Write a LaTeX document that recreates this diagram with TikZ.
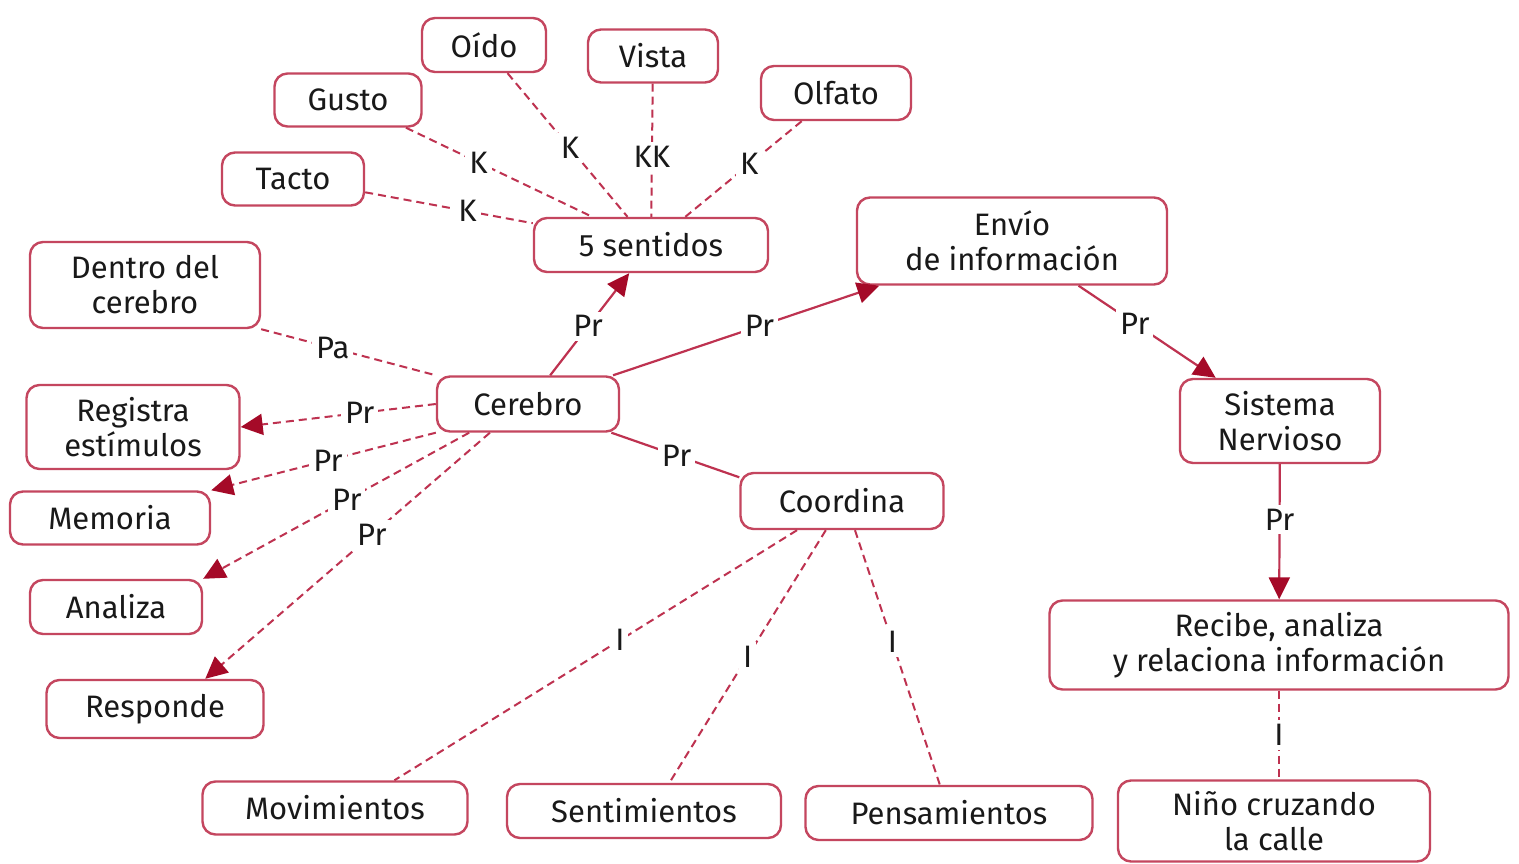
\documentclass[tikz,border=0pt]{standalone}
\usepackage{fontspec}
\setmainfont{Fira Sans}
\usetikzlibrary{arrows.meta}
\definecolor{boxred}{RGB}{196,70,95}
\definecolor{linered}{RGB}{190,50,80}
\definecolor{tipred}{RGB}{165,10,40}
\definecolor{ink}{RGB}{25,25,25}
\newcommand{\mapfont}{\fontsize{31}{35}\selectfont}

\begin{document}
\begin{tikzpicture}[x=1pt,y=-1pt,
    box/.style={draw=boxred,line width=2.4pt,rounded corners=13pt,fill=white,
      align=center,font=\mapfont,text=ink,inner sep=0pt},
    lbl/.style={fill=white,inner sep=4pt,font=\mapfont,text=ink},
    sline/.style={draw=linered,line width=2.2pt},
    dline/.style={draw=linered,line width=2pt,dash pattern=on 8pt off 5pt},
    tip/.style={-{Triangle[length=22pt,width=21pt,color=tipred]}}]
  \useasboundingbox[fill=white] (0,0) rectangle (1519,864);

  % sentidos
  \node[box,minimum width=124,minimum height=54] (oid) at (484,45) {Oído};
  \node[box,minimum width=130,minimum height=53] (vis) at (653,56) {Vista};
  \node[box,minimum width=147,minimum height=53] (gus) at (348,100) {Gusto};
  \node[box,minimum width=150,minimum height=54] (olf) at (836,93) {Olfato};
  \node[box,minimum width=142,minimum height=53] (tac) at (293,179) {Tacto};
  \node[box,minimum width=234,minimum height=54] (cin) at (651,245) {5 sentidos};

  % cerebro y lo que hace
  \node[box,minimum width=182,minimum height=55] (cer) at (528,404) {Cerebro};
  \node[box,minimum width=230,minimum height=86] (den) at (145,285) {Dentro del\\cerebro};
  \node[box,minimum width=213,minimum height=84] (reg) at (133,427) {Registra\\estímulos};
  \node[box,minimum width=200,minimum height=53] (mem) at (110,518) {Memoria};
  \node[box,minimum width=172,minimum height=54] (ana) at (116,607) {Analiza};
  \node[box,minimum width=217,minimum height=58] (res) at (155,709) {Responde};

  % coordina
  \node[box,minimum width=203,minimum height=56] (coo) at (842,501) {Coordina};
  \node[box,minimum width=265,minimum height=53] (mov) at (335,808) {Movimientos};
  \node[box,minimum width=274,minimum height=54] (sen) at (644,811) {Sentimientos};
  \node[box,minimum width=287,minimum height=54] (pen) at (949,813) {Pensamientos};

  % rama derecha
  \node[box,minimum width=310,minimum height=87] (env) at (1012,241) {Envío\\de información};
  \node[box,minimum width=200,minimum height=84] (sis) at (1280,421) {Sistema\\Nervioso};
  \node[box,minimum width=459,minimum height=89] (rec) at (1279,645) {Recibe, analiza\\y relaciona información};
  \node[box,minimum width=312,minimum height=81] (nin) at (1274,821) {Niño cruzando\\la calle};

  % K
  \draw[dline] (gus) -- node[lbl,pos=0.39] {K} (cin);
  \draw[dline] (oid) -- node[lbl,pos=0.52] {K} (cin);
  \draw[dline] (vis) -- node[lbl,pos=0.55] {KK} (cin);
  \draw[dline] (olf) -- node[lbl,pos=0.45] {K} (cin);
  \draw[dline] (tac) -- node[lbl,pos=0.61] {K} (cin);

  % Pr, solid
  \draw[sline,tip] (cer) -- node[lbl,pos=0.48] {Pr} (cin);
  \draw[sline,tip] (cer) -- node[lbl,pos=0.55] {Pr} (env);
  \draw[sline,tip] (env) -- node[lbl,pos=0.41] {Pr} (sis);
  \draw[sline,tip] (sis) -- node[lbl,pos=0.41] {Pr} (rec);
  \draw[sline] (cer.-19) -- node[lbl,pos=0.51] {Pr} (coo.167);

  % Pa, Pr dashed
  \draw[dline] (den.south east) -- node[lbl,pos=0.41] {Pa} (cer.north west);
  \draw[dline,tip] (cer.west) -- node[lbl,pos=0.39] {Pr} (reg.east);
  \draw[dline,tip] (cer.south west) -- node[lbl,pos=0.48] {Pr} (mem.north east);
  \draw[dline,tip] (cer.206) -- node[lbl,pos=0.46] {Pr} (ana.north east);
  \draw[dline,tip] (cer.217) -- node[lbl,pos=0.415] {Pr} (res.31);

  % I
  \draw[dline] (coo.213) -- node[lbl,pos=0.44] {I} (mov.25);
  \draw[dline] (coo.241) -- node[lbl,pos=0.5] {I} (sen.48);
  \draw[dline] (coo.294) -- node[lbl,pos=0.44] {I} (pen.108);
  \draw[dline] (rec.south) -- node[lbl,pos=0.5] {I} (rec.south |- nin.north);
\end{tikzpicture}
\end{document}
